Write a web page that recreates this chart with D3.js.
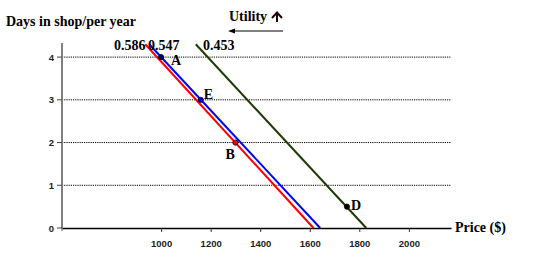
<!DOCTYPE html>
<html><head><meta charset="utf-8">
<script src="https://cdn.jsdelivr.net/npm/d3@7"></script>
<style>body{margin:0;background:#fff}svg{display:block}</style>
</head><body>
<svg id="c" width="560" height="259"></svg>
<script>
const xTicks = [1000, 1200, 1400, 1600, 1800, 2000];
const yTicks = [0, 1, 2, 3, 4];
const lineNames = ["red", "blue", "green"];
const lineStart = [[936, 4.3], [952, 4.3], [1140, 4.3]];
const lineEnd = [[1615, 0], [1642, 0], [1828, 0]];
const lineLabels = ["0.586", "0.547", "0.453"];
const pointNames = ["A", "E", "B", "D"];
const pointX = [1000, 1160, 1300, 1750];
const pointY = [4, 3, 2, 0.5];

const svg = d3.select("#c");
const x = d3.scaleLinear().domain([600, 2170]).range([62, 451]);
const y = d3.scaleLinear().domain([0, 4.33]).range([228, 43]);
const serif = "'Liberation Serif','Times New Roman',serif";
const sans = "'Liberation Sans',Arial,sans-serif";
const colors = {red: "#ff0000", blue: "#0000ff", green: "#1b3a05"};

// gridlines
svg.append("g").selectAll("line").data(yTicks.filter(d => d > 0)).join("line")
  .attr("x1", x(600)).attr("x2", x(2170))
  .attr("y1", d => y(d)).attr("y2", d => y(d))
  .attr("stroke", "#000").attr("stroke-width", 1).attr("stroke-dasharray", "1.2,1");

// y axis
svg.append("line").attr("x1", 62).attr("x2", 62).attr("y1", y(4.33)).attr("y2", y(0))
  .attr("stroke", "#808080").attr("stroke-width", 2);
svg.append("g").selectAll("line").data(yTicks).join("line")
  .attr("x1", 57).attr("x2", 62).attr("y1", d => y(d)).attr("y2", d => y(d))
  .attr("stroke", "#444").attr("stroke-width", 1);
svg.append("g").selectAll("text").data(yTicks).join("text")
  .attr("x", 54).attr("y", d => y(d) + 3.5)
  .attr("text-anchor", "end").attr("font-family", sans).attr("font-weight", "bold")
  .attr("font-size", 9.5).attr("fill", "#222").text(d => d);

// x axis
const xa = svg.append("g").attr("transform", "translate(0,228)")
  .call(d3.axisBottom(x).tickValues(xTicks).tickFormat(d3.format("d"))
    .tickSize(4).tickSizeOuter(0).tickPadding(8));
xa.select(".domain").attr("stroke", "#000").attr("stroke-width", 1.5);
xa.selectAll(".tick line").attr("stroke", "#333");
xa.selectAll(".tick text").attr("font-family", sans).attr("font-weight", "bold")
  .attr("font-size", 9.5).attr("fill", "#222");
svg.append("line").attr("x1", 62).attr("x2", 62).attr("y1", 228).attr("y2", 231)
  .attr("stroke", "#444");

// lines
svg.append("g").selectAll("line").data(lineNames).join("line")
  .attr("x1", (d, i) => x(lineStart[i][0])).attr("y1", (d, i) => y(lineStart[i][1]))
  .attr("x2", (d, i) => x(lineEnd[i][0])).attr("y2", (d, i) => y(lineEnd[i][1]))
  .attr("stroke", d => colors[d]).attr("stroke-width", 2);

// line labels
const labelX = [114, 148, 203];
svg.append("g").selectAll("text").data(lineLabels).join("text")
  .attr("x", (d, i) => labelX[i]).attr("y", 50)
  .attr("font-family", serif).attr("font-weight", "bold").attr("font-size", 14)
  .attr("fill", "#000").text(d => d);

// points
const pointFill = ["#000066", "#0000ff", "#ff0000", "#000"];
svg.append("g").selectAll("circle").data(pointNames).join("circle")
  .attr("cx", (d, i) => x(pointX[i])).attr("cy", (d, i) => y(pointY[i]))
  .attr("r", 2.6).attr("fill", (d, i) => pointFill[i])
  .attr("stroke", "#000").attr("stroke-width", 0.8);
const pdx = [10, 3, -10, 4];
const pdy = [8, -0.5, 16, 3.5];
svg.append("g").selectAll("text").data(pointNames).join("text")
  .attr("x", (d, i) => x(pointX[i]) + pdx[i]).attr("y", (d, i) => y(pointY[i]) + pdy[i])
  .attr("font-family", serif).attr("font-weight", "bold").attr("font-size", 14)
  .attr("fill", "#000").text(d => d);

// titles
svg.append("text").attr("x", 6).attr("y", 26).attr("font-family", serif)
  .attr("font-weight", "bold").attr("font-size", 14).text("Days in shop/per year");
svg.append("text").attr("x", 455).attr("y", 232).attr("font-family", serif)
  .attr("font-weight", "bold").attr("font-size", 14).text("Price ($)");
svg.append("text").attr("x", 229).attr("y", 21).attr("font-family", serif)
  .attr("font-weight", "bold").attr("font-size", 14).text("Utility");
// up arrow
svg.append("line").attr("x1", 277).attr("x2", 277).attr("y1", 22).attr("y2", 14)
  .attr("stroke", "#200").attr("stroke-width", 2);
svg.append("path").attr("d", "M272,18 L277,12.5 L282,18").attr("fill", "none")
  .attr("stroke", "#200").attr("stroke-width", 2);
// left arrow
svg.append("line").attr("x1", 283).attr("x2", 231).attr("y1", 31).attr("y2", 31)
  .attr("stroke", "#000").attr("stroke-width", 1);
svg.append("path").attr("d", "M228,31 L235,28.5 L235,33.5 Z").attr("fill", "#000");
</script>
</body></html>
